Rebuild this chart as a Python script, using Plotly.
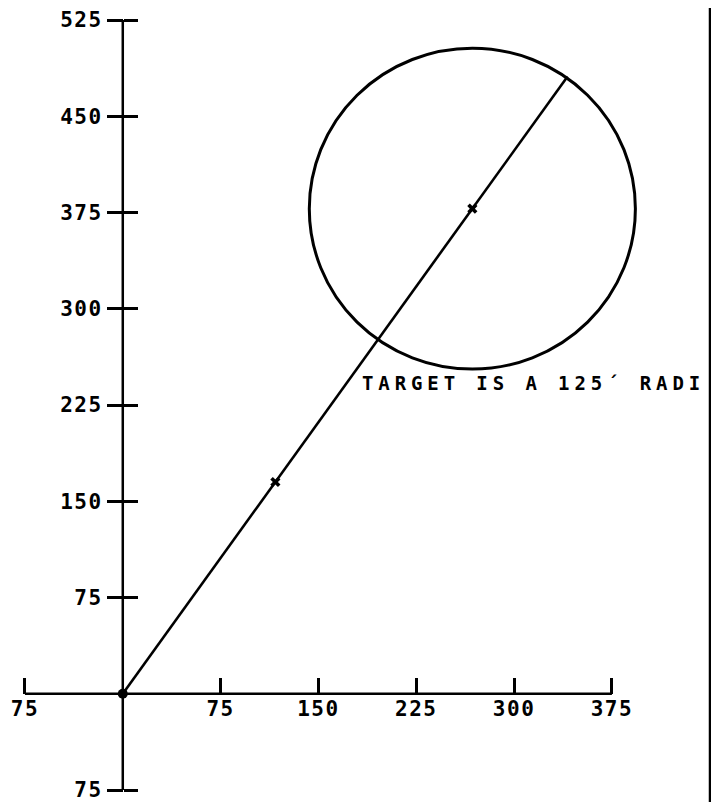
import plotly.graph_objects as go

# ---- data ----
x_tick_vals = [-75, 75, 150, 225, 300, 375]
x_tick_text = ["75", "75", "150", "225", "300", "375"]
y_tick_vals = [-75, 75, 150, 225, 300, 375, 450, 525]
y_tick_text = ["75", "75", "150", "225", "300", "375", "450", "525"]

path_x = [0, 341]
path_y = [0, 481]
mark_x = [117, 268]
mark_y = [165, 378]
origin_x = [0]
origin_y = [0]

target_cx = 268
target_cy = 378
target_r = 125

note_text = "TARGET IS A 125\u00b4 RADI"
note_x = 182
note_y = 242

# the page body adds an 8px offset; the figure is sized to fit the window
FIG_W, FIG_H = 711, 794
X_RANGE = [-88.0, 457.1]
Y_RANGE = [-75, 525]

FONT = "DejaVu Sans Mono"


def spaced(s, sp):
    return f'<span style="letter-spacing:{sp}px">{s}</span>'


fig = go.Figure()

fig.add_trace(go.Scatter(x=path_x, y=path_y, mode="lines",
                         line=dict(color="black", width=2.6),
                         hoverinfo="skip", showlegend=False))
fig.add_trace(go.Scatter(x=mark_x, y=mark_y, mode="markers",
                         marker=dict(symbol="x", size=9, color="black"),
                         hoverinfo="skip", showlegend=False))
fig.add_trace(go.Scatter(x=origin_x, y=origin_y, mode="markers",
                         marker=dict(symbol="circle", size=10, color="black"),
                         hoverinfo="skip", showlegend=False))
# the origin again, bound to the right-facing tick axis
fig.add_trace(go.Scatter(x=origin_x, y=origin_y, yaxis="y2", mode="markers",
                         marker=dict(size=1, opacity=0),
                         hoverinfo="skip", showlegend=False))

# target circle
fig.add_shape(type="circle", xref="x", yref="y",
              x0=target_cx - target_r, x1=target_cx + target_r,
              y0=target_cy - target_r, y1=target_cy + target_r,
              line=dict(color="black", width=3))

# axis lines, spanning first to last tick
fig.add_shape(type="line", xref="x", yref="y",
              x0=x_tick_vals[0], x1=x_tick_vals[-1], y0=0, y1=0,
              line=dict(color="black", width=2.5))
fig.add_shape(type="line", xref="x", yref="y",
              x0=0, x1=0, y0=y_tick_vals[0], y1=y_tick_vals[-1],
              line=dict(color="black", width=2.5))

# page border on the right
fig.add_shape(type="line", xref="paper", yref="paper",
              x0=702 / FIG_W, x1=702 / FIG_W, y0=-0.03, y1=1.03,
              line=dict(color="black", width=2.5))

fig.add_annotation(x=note_x, y=note_y, xref="x", yref="y",
                   text=spaced(note_text, 4.9), showarrow=False,
                   xanchor="left", yanchor="middle",
                   font=dict(family=FONT, size=19, color="black", weight="bold"))

x_axis_pos = (0 - Y_RANGE[0]) / (Y_RANGE[1] - Y_RANGE[0])
y_axis_pos = (0 - X_RANGE[0]) / (X_RANGE[1] - X_RANGE[0])

tick_font = dict(family=FONT, size=21, color="black", weight="bold")

fig.update_layout(
    width=FIG_W, height=FIG_H,
    margin=dict(l=0, r=0, t=10, b=12),
    paper_bgcolor="white", plot_bgcolor="white",
    showlegend=False,
    xaxis=dict(range=X_RANGE, anchor="free", position=x_axis_pos,
               showgrid=False, zeroline=False, showline=False,
               tickmode="array", tickvals=x_tick_vals,
               ticktext=[spaced(t, 1.5) for t in x_tick_text],
               ticks="inside", ticklen=16, tickwidth=2.5, tickcolor="black",
               tickfont=tick_font, ticklabeloverflow="allow", fixedrange=True),
    yaxis=dict(range=Y_RANGE, anchor="free", position=y_axis_pos,
               showgrid=False, zeroline=False, showline=False,
               tickmode="array", tickvals=y_tick_vals,
               ticktext=[spaced(t, 1.5) for t in y_tick_text],
               ticks="outside", ticklen=16, tickwidth=2.5, tickcolor="black",
               tickfont=tick_font, ticklabeloverflow="allow", fixedrange=True),
    yaxis2=dict(range=Y_RANGE, overlaying="y", anchor="free",
                position=y_axis_pos, side="right",
                showgrid=False, zeroline=False, showline=False,
                tickmode="array", tickvals=y_tick_vals,
                showticklabels=False,
                ticks="outside", ticklen=14, tickwidth=2.5, tickcolor="black",
                fixedrange=True),
)

fig.write_html("out.html", config={"displayModeBar": False})
